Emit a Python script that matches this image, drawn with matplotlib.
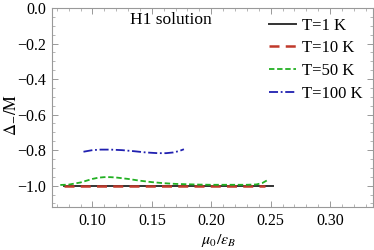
import matplotlib
matplotlib.use("Agg")
import matplotlib.pyplot as plt
from matplotlib.ticker import MultipleLocator, FixedLocator

plt.rcParams['font.family'] = ['Liberation Serif', 'DejaVu Serif']
plt.rcParams['mathtext.fontset'] = 'stix'

# data
x_t1 = [0.076, 0.252]
y_t1 = [-1.0, -1.0]
x_t10 = [0.076, 0.245]
y_t10 = [-1.0, -1.0]
x_t50 = [0.073, 0.08, 0.09, 0.10, 0.105, 0.11, 0.115, 0.12, 0.13, 0.14, 0.15, 0.16,
         0.17, 0.18, 0.19, 0.20, 0.21, 0.22, 0.23, 0.238, 0.243, 0.247]
y_t50 = [-0.996, -0.994, -0.982, -0.962, -0.955, -0.952, -0.952, -0.954, -0.962,
         -0.972, -0.980, -0.986, -0.990, -0.992, -0.994, -0.995, -0.995, -0.995,
         -0.995, -0.993, -0.985, -0.970]
x_t100 = [0.0925, 0.10, 0.107, 0.115, 0.125, 0.135, 0.145, 0.155, 0.162, 0.168, 0.173, 0.177]
y_t100 = [-0.809, -0.800, -0.797, -0.797, -0.800, -0.806, -0.813, -0.817, -0.817,
          -0.813, -0.805, -0.795]
labels = ['T=1 K', 'T=10 K', 'T=50 K', 'T=100 K']
xticks = [0.10, 0.15, 0.20, 0.25, 0.30]
yticks = [0.0, -0.2, -0.4, -0.6, -0.8, -1.0]

fig = plt.figure(figsize=(3.74, 2.5), dpi=100)
ax = fig.add_axes([0.139, 0.172, 0.858, 0.796])

ax.plot(x_t1, y_t1, color='#333333', lw=1.4, label=labels[0])
ax.plot(x_t10, y_t10, color='#c0392b', lw=1.8, ls=(0, (4, 2.5)), label=labels[1])
ax.plot(x_t50, y_t50, color='#22b022', lw=1.3, ls=(0, (3, 1.5)), label=labels[2])
ax.plot(x_t100, y_t100, color='#2020b0', lw=1.3, ls=(0, (5, 1.5, 1, 1.5)), label=labels[3])

ax.set_xlim(0.066, 0.336)
ax.set_ylim(-1.12, 0.0)
ax.xaxis.set_major_locator(FixedLocator(xticks))
ax.yaxis.set_major_locator(FixedLocator(yticks))
ax.xaxis.set_minor_locator(MultipleLocator(0.01))
ax.yaxis.set_minor_locator(MultipleLocator(0.05))
ax.set_xticklabels(['%.2f' % v for v in xticks])
ax.set_yticklabels([('\u2212%.1f' % -v) if v < 0 else '%.1f' % v for v in yticks])

for s in ax.spines.values():
    s.set_color('#999999')
    s.set_linewidth(0.8)
ax.tick_params(which='both', direction='in', top=True, right=True, color='#999999',
               labelsize=11.5, pad=4)
ax.tick_params(which='major', length=4, width=0.7)
ax.tick_params(which='minor', length=2, width=0.5)
ax.tick_params(axis='x', pad=4)

ax.text(0.37, 0.94, 'H1 solution', transform=ax.transAxes, fontsize=12.5,
        ha='center', va='center')

ax.set_xlabel(r'$\mu_0/\epsilon_B$', fontsize=11.5)
ax.xaxis.set_label_coords(0.52, -0.125)
ax.set_ylabel(r'$\Delta_{-}/\mathrm{M}$', fontsize=12)
ax.yaxis.set_label_coords(-0.105, 0.46)

leg = ax.legend(loc='upper right', frameon=False, fontsize=12, handlelength=1.6,
                handletextpad=0.4, labelspacing=0.4, borderaxespad=0.0,
                bbox_to_anchor=(0.99, 0.985))

fig.savefig('out.png', dpi=100)
